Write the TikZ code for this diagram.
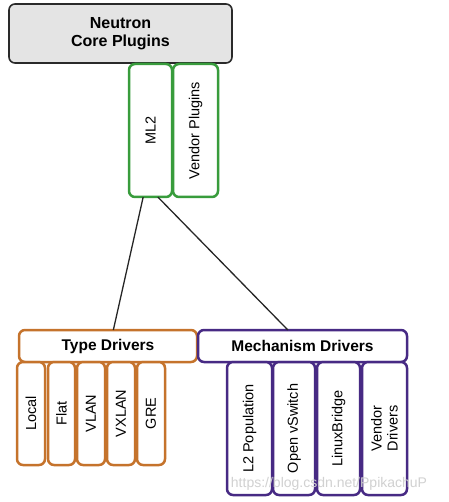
\documentclass[tikz,border=0pt]{standalone}
\usepackage{fontspec}
\setmainfont{Liberation Sans}
\usetikzlibrary{calc}
\definecolor{mlgreen}{HTML}{389C3C}
\definecolor{tdorange}{HTML}{C5732C}
\definecolor{mdpurple}{HTML}{472A84}
\definecolor{coregray}{HTML}{E4E4E4}
\definecolor{coreedge}{HTML}{2A2A2A}
\begin{document}
\begin{tikzpicture}[x=1pt,y=-1pt,
  base/.style={rounded corners=6pt, inner sep=0pt, outer sep=0pt, anchor=north west, align=center},
  corebox/.style={base, draw=coreedge, fill=coregray, line width=1.6pt, font=\bfseries\fontsize{16}{18.5}\selectfont},
  greenbox/.style={base, draw=mlgreen, fill=white, line width=2.5pt},
  orangebox/.style={base, draw=tdorange, fill=white, line width=2.5pt},
  purplebox/.style={base, draw=mdpurple, fill=white, line width=2.5pt},
  headtext/.style={font=\bfseries\fontsize{15.5}{18}\selectfont},
  vlabel/.style={rotate=90, font=\fontsize{14.5}{16}\selectfont, align=center, inner sep=0pt},
  link/.style={draw=black!85, line width=1.3pt}
]
\useasboundingbox (0,0) rectangle (448,502);

% Core
\node[corebox, minimum width=223pt, minimum height=59pt] (core) at (9,4) {Neutron\\[-1pt]Core Plugins};

% ML2 and vendor plugins
\node[greenbox, minimum width=43pt, minimum height=133pt] (ml2) at (129,64) {};
\node[vlabel] (ml2t) at (ml2.center) {ML2};
\node[greenbox, minimum width=45pt, minimum height=133pt] (vp) at (173,64) {};
\node[vlabel] (vpt) at (vp.center) {Vendor Plugins};

% Type drivers
\node[orangebox, minimum width=178pt, minimum height=32pt, headtext] (td) at (19,330) {Type Drivers};
\node[orangebox, minimum width=28pt, minimum height=103pt] (local) at (17,362) {};
\node[vlabel] at (local.center) {Local};
\node[orangebox, minimum width=27pt, minimum height=103pt] (flat) at (48,362) {};
\node[vlabel] at (flat.center) {Flat};
\node[orangebox, minimum width=28pt, minimum height=103pt] (vlan) at (77,362) {};
\node[vlabel] at (vlan.center) {VLAN};
\node[orangebox, minimum width=28pt, minimum height=103pt] (vxlan) at (107,362) {};
\node[vlabel] at (vxlan.center) {VXLAN};
\node[orangebox, minimum width=28pt, minimum height=103pt] (gre) at (137,362) {};
\node[vlabel] at (gre.center) {GRE};

% Mechanism drivers
\node[purplebox, minimum width=209pt, minimum height=32pt, headtext] (md) at (198,330) {Mechanism Drivers};
\node[purplebox, minimum width=45pt, minimum height=133pt] (l2p) at (227,362) {};
\node[vlabel] at (l2p.center) {L2 Population};
\node[purplebox, minimum width=42pt, minimum height=133pt] (ovs) at (273,362) {};
\node[vlabel] at (ovs.center) {Open vSwitch};
\node[purplebox, minimum width=43pt, minimum height=133pt] (lb) at (317,362) {};
\node[vlabel] at (lb.center) {LinuxBridge};
\node[purplebox, minimum width=45pt, minimum height=133pt] (vd) at (362,362) {};
\node[vlabel] at (vd.center) {Vendor\\Drivers};

% Connectors
\coordinate (ml2a) at ($(ml2.south west)!0.33!(ml2.south east)$);
\coordinate (ml2b) at ($(ml2.south west)!0.67!(ml2.south east)$);
\coordinate (tdtop) at ($(td.north west)!0.53!(td.north east)$);
\coordinate (mdtop) at ($(md.north west)!0.43!(md.north east)$);
\draw[link] (ml2a) -- (tdtop);
\draw[link] (ml2b) -- (mdtop);

% Watermark
\node[text=black!18, font=\fontsize{14}{16}\selectfont, inner sep=0pt] (wm) at (329,484) {https://blog.csdn.net/PpikachuP};
\end{tikzpicture}
\end{document}
